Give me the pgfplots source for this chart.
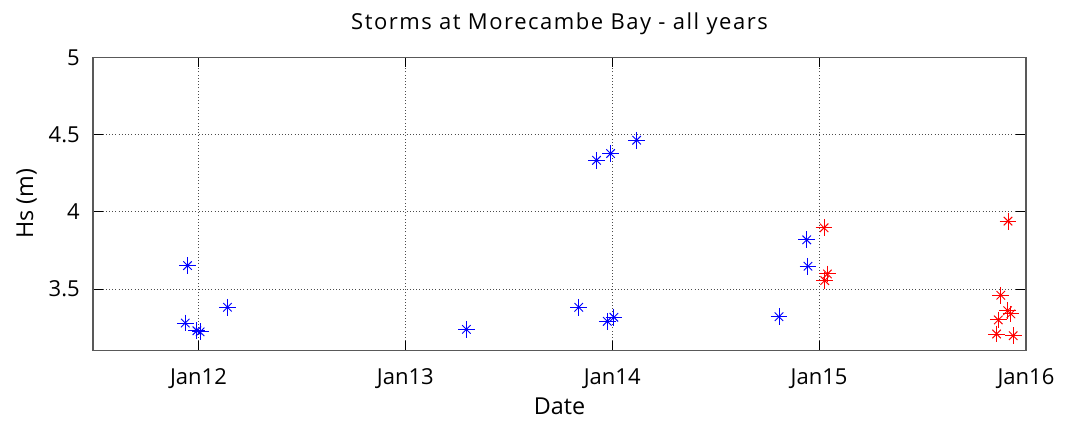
\documentclass[border=0pt]{standalone}
\usepackage{fontspec}
\setmainfont{Open Sans}
\newfontfamily\titlefont[LetterSpace=7]{Open Sans}
\usepackage{pgfplots}
\pgfplotsset{compat=1.18}
\begin{document}
\begin{tikzpicture}
\useasboundingbox (-69.75pt,-56.475pt) rectangle (732pt,263pt);
\begin{axis}[
  at={(0,0)}, anchor=south west,
  scale only axis, width=699.75pt, height=220pt,
  xmin=2011.49, xmax=2016.0, ymin=3.1, ymax=5,
  xtick={2012,2013,2014,2015,2016},
  xticklabels={Jan12,Jan13,Jan14,Jan15,Jan16},
  ytick={3.5,4,4.5,5},
  yticklabels={3.5,4,4.5,5},
  /pgf/number format/assume math mode=true,
  tick align=inside, tick pos=both,
  major tick length=7.5pt,
  tick style={black, line width=0.6pt},
  axis line style={black!65, line width=0.8pt},
  grid=major,
  major grid style={black!70, line width=0.5pt, dash pattern=on 0.6pt off 1.8pt},
  ticklabel style={font=\fontsize{16.5pt}{18pt}\selectfont},
  xticklabel style={anchor=base, yshift=-25pt},
  yticklabel style={anchor=east, inner sep=0pt, xshift=-9.75pt},
  title={Storms at Morecambe Bay - all years},
  title style={font=\titlefont\fontsize{16.5pt}{18pt}\selectfont, anchor=base, at={(axis description cs:0.5,1)}, yshift=14.5pt},
  xlabel={Date},
  xlabel style={font=\fontsize{17.5pt}{19pt}\selectfont, anchor=base, at={(axis description cs:0.5,0)}, yshift=-48.2pt},
  ylabel={Hs (m)},
  ylabel style={font=\fontsize{17.5pt}{19pt}\selectfont, anchor=base, at={(axis description cs:-0.0643,0.5)}},
]
\addplot[only marks, blue, mark=+, mark size=6.3pt, mark options={line width=0.7pt}] table {
x y
2011.947 3.651
2011.936 3.279
2011.992 3.229
2012.008 3.222
2012.140 3.381
2013.295 3.238
2013.838 3.381
2013.924 4.333
2013.992 4.377
2014.118 4.463
2013.976 3.290
2014.008 3.316
2014.806 3.320
2014.940 3.818
2014.946 3.647
};
\addplot[only marks, blue, mark=x, mark size=4.5pt, mark options={line width=0.7pt}] table {
x y
2011.947 3.651
2011.936 3.279
2011.992 3.229
2012.008 3.222
2012.140 3.381
2013.295 3.238
2013.838 3.381
2013.924 4.333
2013.992 4.377
2014.118 4.463
2013.976 3.290
2014.008 3.316
2014.806 3.320
2014.940 3.818
2014.946 3.647
};
\addplot[only marks, red, mark=+, mark size=6.3pt, mark options={line width=0.7pt}] table {
x y
2015.024 3.896
2015.040 3.597
2015.027 3.554
2015.913 3.939
2015.878 3.459
2015.911 3.359
2015.927 3.338
2015.866 3.299
2015.858 3.208
2015.938 3.197
};
\addplot[only marks, red, mark=x, mark size=4.5pt, mark options={line width=0.7pt}] table {
x y
2015.024 3.896
2015.040 3.597
2015.027 3.554
2015.913 3.939
2015.878 3.459
2015.911 3.359
2015.927 3.338
2015.866 3.299
2015.858 3.208
2015.938 3.197
};
\end{axis}
\end{tikzpicture}
\end{document}
